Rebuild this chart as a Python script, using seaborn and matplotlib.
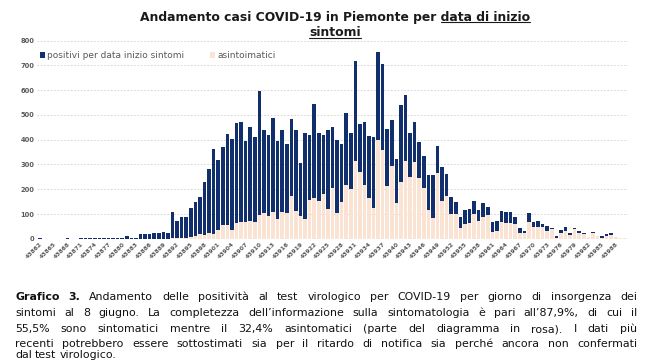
import matplotlib
matplotlib.use("Agg")
import matplotlib.pyplot as plt
import seaborn as sns
import pandas as pd
from matplotlib.lines import Line2D

# giorni (numero seriale Excel) e conteggi
giorni = list(range(43862, 43991))
positivi = [
    3, 0, 0, 0, 0, 0, 3, 0, 0, 2,
    3, 2, 3, 4, 5, 4, 3, 5, 3, 10,
    4, 5, 18, 19, 18, 25, 22, 28, 22, 108,
    73, 89, 87, 125, 150, 168, 231, 282, 364, 317,
    372, 423, 404, 469, 471, 395, 452, 409, 597, 437,
    418, 487, 396, 437, 382, 484, 437, 305, 426, 417,
    545, 426, 419, 437, 450, 399, 382, 507, 426, 718,
    464, 471, 413, 410, 753, 705, 442, 480, 322, 538,
    580, 426, 472, 390, 336, 258, 258, 375, 289, 262,
    170, 150, 87, 116, 120, 154, 116, 146, 130, 69,
    72, 114, 107, 110, 87, 42, 33, 105, 67, 73,
    60, 53, 45, 11, 36, 46, 25, 45, 33, 25,
    8, 29, 12, 11, 18, 22, 8, 4, 3,
]
asintomatici = [
    0, 0, 0, 0, 0, 0, 0, 0, 0, 0,
    0, 0, 0, 0, 0, 0, 0, 0, 0, 0,
    0, 0, 0, 0, 0, 0, 0, 0, 0, 3,
    3, 5, 5, 8, 12, 20, 15, 22, 18, 35,
    55, 56, 36, 65, 69, 68, 72, 69, 96, 103,
    92, 110, 80, 110, 105, 174, 112, 92, 80, 157,
    164, 153, 181, 120, 204, 103, 147, 216, 200, 312,
    271, 217, 164, 123, 399, 359, 215, 294, 143, 231,
    314, 251, 310, 244, 204, 116, 83, 265, 154, 174,
    99, 99, 42, 60, 63, 100, 72, 89, 96, 29,
    33, 69, 65, 65, 60, 22, 22, 69, 46, 49,
    46, 33, 40, 5, 22, 33, 16, 38, 22, 18,
    8, 22, 12, 5, 13, 15, 8, 4, 3,
]
etichette_x = giorni[::3]
valori_y = list(range(0, 801, 100))

titolo_1 = "Andamento casi COVID-19 in Piemonte per "
titolo_sott = "data di inizio"
titolo_2 = "sintomi"

didascalia = [
    "Grafico 3. Andamento delle positività al test virologico per COVID-19 per giorno di insorgenza dei",
    "sintomi al 8 giugno. La completezza dell’informazione sulla sintomatologia è pari all’87,9%, di cui il",
    "55,5% sono sintomatici mentre il 32,4% asintomatici (parte del diagramma in rosa). I dati più",
    "recenti potrebbero essere sottostimati sia per il ritardo di notifica sia perché ancora non confermati",
    "dal test virologico.",
]

BLU = "#102f6c"
ROSA = "#fbe3d3"
GRIGIO = "#595959"

sns.set_theme(style="white")
plt.rcParams["font.family"] = ["DejaVu Sans"]

df = pd.DataFrame({"giorno": giorni, "positivi": positivi, "asintomatici": asintomatici})

fig = plt.figure(figsize=(6.5, 3.61), dpi=100)
ax = fig.add_axes([0.0573, 0.3385, 0.9083, 0.5493])

sns.barplot(data=df, x="giorno", y="positivi", color=BLU, saturation=1, width=0.78,
            errorbar=None, ax=ax, label="positivi per data inizio sintomi", linewidth=0)
sns.barplot(data=df, x="giorno", y="asintomatici", color=ROSA, saturation=1, width=0.78,
            errorbar=None, ax=ax, label="asintoimatici", linewidth=0)

ax.set_xlim(-0.6, len(giorni) - 0.4)
ax.set_ylim(0, 800)
ax.set_yticks(valori_y)
ax.set_yticklabels([str(v) for v in valori_y], fontsize=4.8, color=GRIGIO, fontweight="bold")
ax.set_xticks(range(0, len(giorni), 3))
ax.set_xticklabels([str(g) for g in etichette_x], rotation=45, ha="right",
                   rotation_mode="anchor", fontsize=4.3, color=GRIGIO, fontweight="bold")
ax.tick_params(axis="both", length=0, pad=2)
ax.set_xlabel("")
ax.set_ylabel("")
for s in ax.spines.values():
    s.set_visible(False)
ax.yaxis.grid(True, linestyle=(0, (2, 2)), color="#cfcfcf", linewidth=0.6)
ax.set_axisbelow(True)

leg = ax.legend(loc="upper left", bbox_to_anchor=(-0.002, 0.965), ncol=2, frameon=False,
                fontsize=6.5, handlelength=0.6, handleheight=0.6, handletextpad=0.25,
                columnspacing=2.8, borderaxespad=0)
for t in leg.get_texts():
    t.set_color(GRIGIO)

# titolo con parte sottolineata
cx = 335 / 650
t1 = fig.text(cx, 1 - 17 / 361, titolo_1 + titolo_sott, ha="center", va="center",
              fontsize=8.9, fontweight="bold", color="#1a1a1a")
t2 = fig.text(cx, 1 - 33 / 361, titolo_2, ha="center", va="center",
              fontsize=8.9, fontweight="bold", color="#1a1a1a")
fig.canvas.draw()
r = fig.canvas.get_renderer()
tmp = fig.text(0, 0, titolo_sott, fontsize=8.9, fontweight="bold")
w_sott = tmp.get_window_extent(r).width
tmp.remove()
b1 = t1.get_window_extent(r)
b2 = t2.get_window_extent(r)
W, H = fig.bbox.width, fig.bbox.height
for x0, x1, yb in [(b1.x1 - w_sott, b1.x1, b1.y0 + 1.5), (b2.x0, b2.x1, b2.y0 + 1.5)]:
    fig.add_artist(Line2D([x0 / W, x1 / W], [yb / H, yb / H], color="#1a1a1a", lw=0.8))

# didascalia giustificata
sx, dx = 15, 637
y_righe = [297, 313, 329, 344, 355]
for n, (riga, yy) in enumerate(zip(didascalia, y_righe)):
    parole = riga.split(" ")
    pezzi = []
    for k, p in enumerate(parole):
        grassetto = n == 0 and k < 2
        pezzi.append(fig.text(0, 1 - yy / 361, p, fontsize=7.9, va="center", ha="left",
                              color="#111111", fontweight="bold" if grassetto else "normal"))
    larg = [p.get_window_extent(r).width for p in pezzi]
    if n < len(didascalia) - 1:
        spazio = (dx - sx - sum(larg)) / (len(pezzi) - 1)
    else:
        spazio = 3.2
    x = sx
    for p, w in zip(pezzi, larg):
        p.set_x(x / 650)
        x += w + spazio

fig.savefig("out.png", dpi=100)
